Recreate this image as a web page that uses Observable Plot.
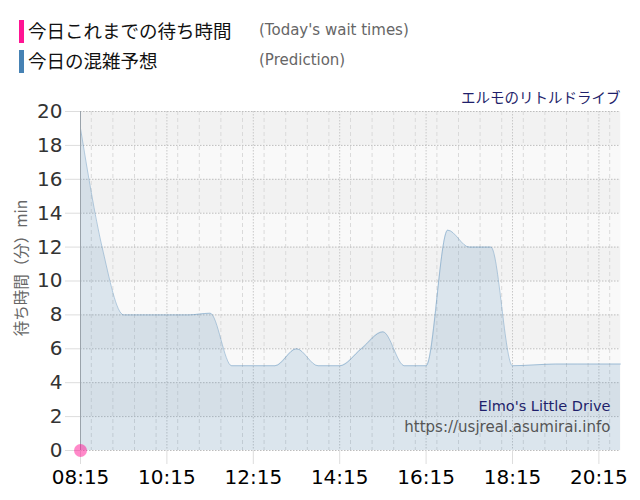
<!DOCTYPE html>
<html><head><meta charset="utf-8">
<script src="https://cdn.jsdelivr.net/npm/d3@7"></script>
<script src="https://cdn.jsdelivr.net/npm/@observablehq/plot@0.6"></script>
<style>
body{margin:0;background:#fff;}
#legend{position:relative;width:640px;height:80px;}
.bar{position:absolute;left:19px;width:5px;height:23px;}
.jp{position:absolute;left:28px;font-family:"Noto Sans CJK JP";font-size:18.5px;color:#111;line-height:1;}
.en{position:absolute;left:259px;font-family:"DejaVu Sans";font-size:15px;color:#666;line-height:1;}
</style></head>
<body>
<div id="legend">
  <div class="bar" style="top:20px;background:#ff1493"></div>
  <div class="jp" style="top:21px">今日これまでの待ち時間</div>
  <div class="en" style="top:23px">(Today's wait times)</div>
  <div class="bar" style="top:50px;background:#4682b4"></div>
  <div class="jp" style="top:51px">今日の混雑予想</div>
  <div class="en" style="top:53px">(Prediction)</div>
</div>
<div id="chart"></div>
<script>
const times = ["08:15","08:45","09:15","09:45","10:15","10:45","11:15","11:45","12:15","12:45","13:15","13:45","14:15","14:45","15:15","15:45","16:15","16:45","17:15","17:45","18:15","18:45","19:15","19:45","20:15","20:45"];
const prediction = [19,12,8,8,8,8,8.1,5,5,5,6,5,5,6,7,5,5,13,12,12,5,5.05,5.1,5.1,5.1,5.1];
const todayTimes = ["08:15"];
const todayWaits = [0];
const xTickLabels = ["08:15","10:15","12:15","14:15","16:15","18:15","20:15"];
const yTicks = [0,2,4,6,8,10,12,14,16,18,20];
const yLabel = "待ち時間（分）min";
const title = "エルモのリトルドライブ";
const watermark1 = "Elmo's Little Drive";
const watermark2 = "https://usjreal.asumirai.info";

const parse = d3.utcParse("%H:%M");
const pred = times.map((t,i)=>({t: parse(t), v: prediction[i]}));
const today = todayTimes.map((t,i)=>({t: parse(t), v: todayWaits[i]}));
const t0 = parse("08:15"), t1 = parse("20:45");
const majors = xTickLabels.map(parse);
const minors = d3.utcMinute.every(30).range(t0, new Date(+t1+1)).filter(d=>!majors.some(m=>+m===+d));
const darkBands = yTicks.filter(d=>d<20 && (d/2)%2===1);

const plot = Plot.plot({
  width: 640, height: 420,
  marginTop: 31, marginBottom: 50, marginLeft: 80, marginRight: 20,
  style: {fontFamily: "DejaVu Sans", background: "white"},
  x: {type: "utc", domain: [t0, t1]},
  y: {domain: [0, 20]},
  marks: [
    Plot.frame({fill: "#f9f9f9", stroke: "none"}),
    Plot.rect(darkBands, {x1: ()=>t0, x2: ()=>t1, y1: d=>d, y2: d=>d+2, fill: "#f2f2f2"}),
    Plot.ruleX(minors, {stroke: "#dadada", strokeDasharray: "4,3"}),
    Plot.ruleX(majors, {stroke: "#c8c8c8", strokeDasharray: "1.5,1.5"}),
    Plot.ruleY(yTicks, {stroke: "#bdbdbd", strokeDasharray: "1.5,1.5"}),
    Plot.areaY(pred, {x: "t", y: "v", curve: "monotone-x", fill: "steelblue", fillOpacity: 0.17}),
    Plot.lineY(pred, {x: "t", y: "v", curve: "monotone-x", stroke: "steelblue", strokeOpacity: 0.4, strokeWidth: 1}),
    Plot.ruleX([t0], {stroke: "#9aa3ab"}),
    Plot.axisY(yTicks, {tickSize: 15, tickPadding: 3, stroke: "#ddd", fill: "#333", fontSize: 20, label: null}),
    Plot.axisX(majors, {tickSize: 14, tickPadding: 5, stroke: "#ddd", fill: "#000", fontSize: 20, tickFormat: d3.utcFormat("%H:%M"), label: null}),
    Plot.text([yLabel], {frameAnchor: "left", textAnchor: "middle", dx: -58, dy: -13, rotate: -90, fontSize: 15.5, fill: "#666", fontFamily: "Noto Sans CJK JP"}),
    Plot.dot(today, {x: "t", y: "v", r: 6.5, fill: "deeppink", fillOpacity: 0.5}),
    Plot.text([title], {frameAnchor: "top-right", dy: -19, textAnchor: "end", fontSize: 14.5, fill: "#1f1f6b", fontFamily: "Noto Sans CJK JP"}),
    Plot.text([watermark1], {frameAnchor: "bottom-right", dx: -10, dy: -40, textAnchor: "end", fontSize: 14.5, fill: "#1f1f6b"}),
    Plot.text([watermark2], {frameAnchor: "bottom-right", dx: -10, dy: -19, textAnchor: "end", fontSize: 15, fill: "#555"})
  ]
});
document.getElementById("chart").appendChild(plot);
</script>
</body></html>
